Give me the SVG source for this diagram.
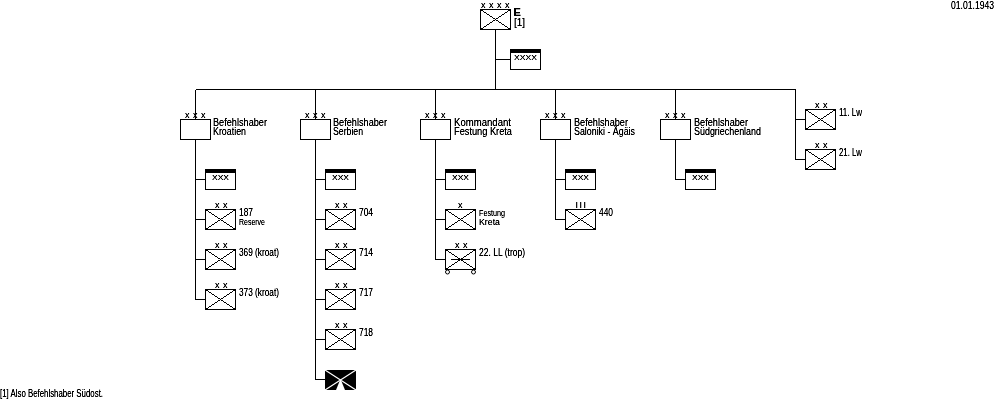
<svg xmlns="http://www.w3.org/2000/svg" width="1000" height="400" viewBox="0 0 1000 400">
<style>
.l{fill:none;stroke:#000;stroke-width:1;shape-rendering:crispEdges}
.b{fill:#fff;stroke:#000;stroke-width:1;shape-rendering:crispEdges}
.k{fill:#000;shape-rendering:crispEdges}
text{font-family:"Liberation Sans",Arial,sans-serif;font-size:10px;fill:#000;filter:url(#mono)}
.s{font-size:9px}
.m{font-size:9px;letter-spacing:3.5px}
.w{font-size:7px}
</style>
<defs>
<filter id="mono" x="-20%" y="-40%" width="140%" height="180%" color-interpolation-filters="sRGB"><feColorMatrix type="matrix" values="0 0 0 0 0 0 0 0 0 0 0 0 0 0 0 0 0 0 1.4 0"/></filter>
<g id="unit"><rect class="b" x="0.5" y="0.5" width="30" height="20"/><path class="l" d="M0.5 0.5L30.5 20.5M30.5 0.5L0.5 20.5"/></g>
<g id="hq"><rect class="b" x="0.5" y="0.5" width="30" height="20"/></g>
<g id="staff"><rect class="b" x="0.5" y="0.5" width="30" height="20"/><rect class="k" x="0" y="0" width="31" height="4"/></g>
</defs>
<rect width="1000" height="400" fill="#fff"/>
<g id="connectors">
<path class="l" d="M495.5 29V89.5M495.5 59.5H510M195.5 89.5H795.5"/>
<path class="l" d="M195.5 89.5V119M195.5 139V299.5M195.5 179.5H205M195.5 219.5H205M195.5 259.5H205M195.5 299.5H205"/>
<path class="l" d="M315.5 89.5V119M315.5 139V379.5M315.5 179.5H325M315.5 219.5H325M315.5 259.5H325M315.5 299.5H325M315.5 339.5H325M315.5 379.5H325"/>
<path class="l" d="M435.5 89.5V119M435.5 139V259.5M435.5 179.5H445M435.5 219.5H445M435.5 259.5H445"/>
<path class="l" d="M555.5 89.5V119M555.5 139V219.5M555.5 179.5H565M555.5 219.5H565"/>
<path class="l" d="M675.5 89.5V119M675.5 139V179.5M675.5 179.5H685"/>
<path class="l" d="M795.5 89.5V159.5M795.5 119.5H805M795.5 159.5H805"/>
</g>
<g id="n-top"><use href="#unit" x="480" y="9"/><text class="m" x="481" y="8">xxxx</text><text x="513.5" y="16" style="font-weight:bold;font-size:11px">E</text><text x="514" y="26">[1]</text></g>
<g id="n-top-staff"><use href="#staff" x="510" y="49"/><text class="w" x="514" y="60" textLength="23" lengthAdjust="spacingAndGlyphs">XXXX</text></g>

<g id="n-kroatien"><use href="#hq" x="180" y="119"/><text class="m" x="185" y="118">xxx</text><text x="213" y="126" textLength="54" lengthAdjust="spacingAndGlyphs">Befehlshaber</text><text x="213" y="135" textLength="33" lengthAdjust="spacingAndGlyphs">Kroatien</text></g>
<g id="n-kroatien-staff"><use href="#staff" x="205" y="169"/><text class="w" x="212" y="180" textLength="17" lengthAdjust="spacingAndGlyphs">XXX</text></g>
<g id="n-187"><use href="#unit" x="205" y="209"/><text class="m" x="215" y="208">xx</text><text x="239" y="216" textLength="14" lengthAdjust="spacingAndGlyphs">187</text><text class="s" x="239" y="225" textLength="26" lengthAdjust="spacingAndGlyphs">Reserve</text></g>
<g id="n-369"><use href="#unit" x="205" y="249"/><text class="m" x="215" y="248">xx</text><text x="239" y="256" textLength="40" lengthAdjust="spacingAndGlyphs">369 (kroat)</text></g>
<g id="n-373"><use href="#unit" x="205" y="289"/><text class="m" x="215" y="288">xx</text><text x="239" y="296" textLength="40" lengthAdjust="spacingAndGlyphs">373 (kroat)</text></g>

<g id="n-serbien"><use href="#hq" x="300" y="119"/><text class="m" x="305" y="118">xxx</text><text x="333" y="126" textLength="54" lengthAdjust="spacingAndGlyphs">Befehlshaber</text><text x="333" y="135" textLength="30" lengthAdjust="spacingAndGlyphs">Serbien</text></g>
<g id="n-serbien-staff"><use href="#staff" x="325" y="169"/><text class="w" x="332" y="180" textLength="17" lengthAdjust="spacingAndGlyphs">XXX</text></g>
<g id="n-704"><use href="#unit" x="325" y="209"/><text class="m" x="335" y="208">xx</text><text x="359" y="216" textLength="14" lengthAdjust="spacingAndGlyphs">704</text></g>
<g id="n-714"><use href="#unit" x="325" y="249"/><text class="m" x="335" y="248">xx</text><text x="359" y="256" textLength="14" lengthAdjust="spacingAndGlyphs">714</text></g>
<g id="n-717"><use href="#unit" x="325" y="289"/><text class="m" x="335" y="288">xx</text><text x="359" y="296" textLength="14" lengthAdjust="spacingAndGlyphs">717</text></g>
<g id="n-718"><use href="#unit" x="325" y="329"/><text class="m" x="335" y="328">xx</text><text x="359" y="336" textLength="14" lengthAdjust="spacingAndGlyphs">718</text></g>
<g id="n-black"><rect class="k" x="325" y="370" width="31" height="20"/><path d="M325 370L356 390M356 370L325 390" stroke="#fff" stroke-width="1.2" fill="none"/><path d="M340.5 379L336 390H345Z" fill="#fff"/></g>

<g id="n-kreta"><use href="#hq" x="420" y="119"/><text class="m" x="425" y="118">xxx</text><text x="454" y="126" textLength="57" lengthAdjust="spacingAndGlyphs">Kommandant</text><text x="454" y="135" textLength="58" lengthAdjust="spacingAndGlyphs">Festung Kreta</text></g>
<g id="n-kreta-staff"><use href="#staff" x="445" y="169"/><text class="w" x="452" y="180" textLength="17" lengthAdjust="spacingAndGlyphs">XXX</text></g>
<g id="n-festung"><use href="#unit" x="445" y="209"/><text class="m" x="458" y="208">x</text><text class="s" x="479" y="216" textLength="26" lengthAdjust="spacingAndGlyphs">Festung</text><text class="s" x="479" y="225" textLength="21" lengthAdjust="spacingAndGlyphs">Kreta</text></g>
<g id="n-22ll"><use href="#unit" x="445" y="249"/><path class="l" d="M451 259.5H470"/><circle cx="447.5" cy="272" r="2" fill="#fff" stroke="#000"/><circle cx="473.5" cy="272" r="2" fill="#fff" stroke="#000"/><text class="m" x="455" y="248">xx</text><text x="479" y="256" textLength="46" lengthAdjust="spacingAndGlyphs">22. LL (trop)</text></g>

<g id="n-saloniki"><use href="#hq" x="540" y="119"/><text class="m" x="545" y="118">xxx</text><text x="574" y="126" textLength="54" lengthAdjust="spacingAndGlyphs">Befehlshaber</text><text x="574" y="135" textLength="61" lengthAdjust="spacingAndGlyphs">Saloniki - Ägäis</text></g>
<g id="n-saloniki-staff"><use href="#staff" x="565" y="169"/><text class="w" x="572" y="180" textLength="17" lengthAdjust="spacingAndGlyphs">XXX</text></g>
<g id="n-440"><use href="#unit" x="565" y="209"/><text class="m" x="575.5" y="208" style="letter-spacing:1.5px">III</text><text x="599" y="216" textLength="14" lengthAdjust="spacingAndGlyphs">440</text></g>

<g id="n-sued"><use href="#hq" x="660" y="119"/><text class="m" x="665" y="118">xxx</text><text x="694" y="126" textLength="54" lengthAdjust="spacingAndGlyphs">Befehlshaber</text><text x="694" y="135" textLength="67" lengthAdjust="spacingAndGlyphs">Südgriechenland</text></g>
<g id="n-sued-staff"><use href="#staff" x="685" y="169"/><text class="w" x="692" y="180" textLength="17" lengthAdjust="spacingAndGlyphs">XXX</text></g>

<g id="n-11lw"><use href="#unit" x="805" y="109"/><text class="m" x="815" y="108">xx</text><text x="839" y="116" textLength="23" lengthAdjust="spacingAndGlyphs">11. Lw</text></g>
<g id="n-21lw"><use href="#unit" x="805" y="149"/><text class="m" x="815" y="148">xx</text><text x="839" y="156" textLength="23" lengthAdjust="spacingAndGlyphs">21. Lw</text></g>

<text id="date" x="951" y="9" textLength="43" lengthAdjust="spacingAndGlyphs">01.01.1943</text>
<text id="note" x="0" y="397" textLength="103" lengthAdjust="spacingAndGlyphs">[1] Also Befehlshaber Südost.</text>
</svg>
